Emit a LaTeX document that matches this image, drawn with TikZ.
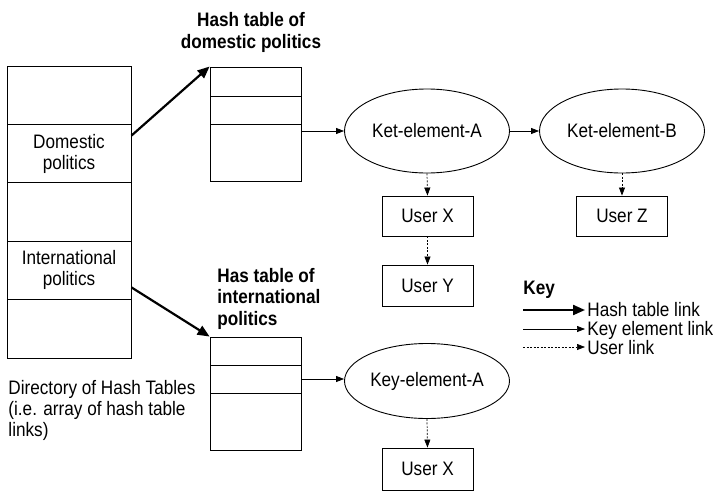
\documentclass[tikz,border=0pt]{standalone}
\usepackage{fontspec}
\setmainfont{Liberation Sans}[FakeStretch=0.88]
\usepackage{tikz}
\usetikzlibrary{arrows.meta,shapes.geometric}

\begin{document}
\begin{tikzpicture}[x=1pt,y=-1pt,line width=0.9pt,
  font=\fontsize{19.5}{21}\selectfont,
  row/.style={draw,minimum width=124pt,minimum height=58.4pt,inner sep=0pt,align=center},
  slot/.style={draw,minimum width=91pt,inner sep=0pt},
  elem/.style={draw,ellipse,minimum width=165pt,inner sep=0pt},
  user/.style={draw,minimum width=91pt,minimum height=41pt,inner sep=0pt},
  head/.style={font=\fontsize{19.5}{21.5}\selectfont\bfseries,inner sep=0pt},
  hashlink/.style={line width=2.2pt,-{Triangle[length=12pt,width=10pt]}},
  keylink/.style={line width=0.7pt,-{Triangle[length=8pt,width=6pt]}},
  userlink/.style={line width=0.7pt,dash pattern=on 2pt off 1.5pt,-{Triangle[length=8pt,width=6pt]}}]
  \useasboundingbox (0,0) rectangle (713,498);

  % directory of hash tables
  \node (d1) at (69,95.2) [row] {};
  \node (d2) at (69,153.6) [row] {Domestic\\politics};
  \node (d3) at (69,212) [row] {};
  \node (d4) at (69,270.4) [row] {International\\politics};
  \node (d5) at (69,328.8) [row] {};
  \node (dir) at (8,410) [anchor=west,inner sep=0pt,align=left]
    {Directory of Hash Tables\\(i.e. array of hash table\\links)};

  % hash table of domestic politics
  \node (t1) at (251,32.5) [head,align=center] {Hash table of\\domestic politics};
  \node (h1) at (255.5,81.5) [slot,minimum height=29pt] {};
  \node (h2) at (255.5,110) [slot,minimum height=28pt] {};
  \node (h3) at (255.5,152.5) [slot,minimum height=57pt] {};

  % hash table of international politics
  \node (t2) at (217,298.5) [head,anchor=west,align=left] {Has table of\\international\\politics};
  \node (i1) at (255.5,351) [slot,minimum height=28pt] {};
  \node (i2) at (255.5,379) [slot,minimum height=28pt] {};
  \node (i3) at (255.5,421.5) [slot,minimum height=57pt] {};

  % key elements and users
  \node (ka) at (427,131) [elem,minimum height=84pt] {Ket-element-A};
  \node (kb) at (622,131) [elem,minimum height=84pt] {Ket-element-B};
  \node (ke) at (427,381) [elem,minimum height=75pt] {Key-element-A};
  \node (ux) at (427.5,216) [user,minimum height=40pt] {User X};
  \node (uz) at (622,216) [user,minimum height=40pt] {User Z};
  \node (uy) at (427.5,285.5) [user] {User Y};
  \node (uw) at (427.5,469) [user,minimum height=42pt] {User X};

  \draw[hashlink] ([yshift=18pt]d2.east) to (h1.north west);
  \draw[hashlink] ([yshift=-17pt]d4.east) to (i1.north west);
  \draw[keylink] (h3.east |- ka.west) to (ka.west);
  \draw[keylink] (i2.east) to (i2.east -| ke.west);
  \draw[keylink] (ka.east) to (kb.west);
  \draw[userlink] (ka.south) to (ux.north);
  \draw[userlink] (kb.south) to (uz.north);
  \draw[userlink] (ux.south) to (uy.north);
  \draw[userlink] (ke.south) to (uw.north);

  % key
  \node (key) at (523,290) [head,anchor=west] {Key};
  \coordinate (k1) at (523,310);
  \coordinate (k2) at (523,329);
  \coordinate (k3) at (523,347);
  \node (l1) at (587,310) [anchor=west,inner sep=0pt] {Hash table link};
  \node (l2) at (587,330) [anchor=west,inner sep=0pt] {Key element link};
  \node (l3) at (587,348) [anchor=west,inner sep=0pt] {User link};
  \draw[hashlink] (k1) to ([xshift=-2pt]k1 -| l1.west);
  \draw[keylink] (k2) to ([xshift=-2pt]k2 -| l2.west);
  \draw[userlink] (k3) to ([xshift=-2pt]k3 -| l3.west);
\end{tikzpicture}
\end{document}
